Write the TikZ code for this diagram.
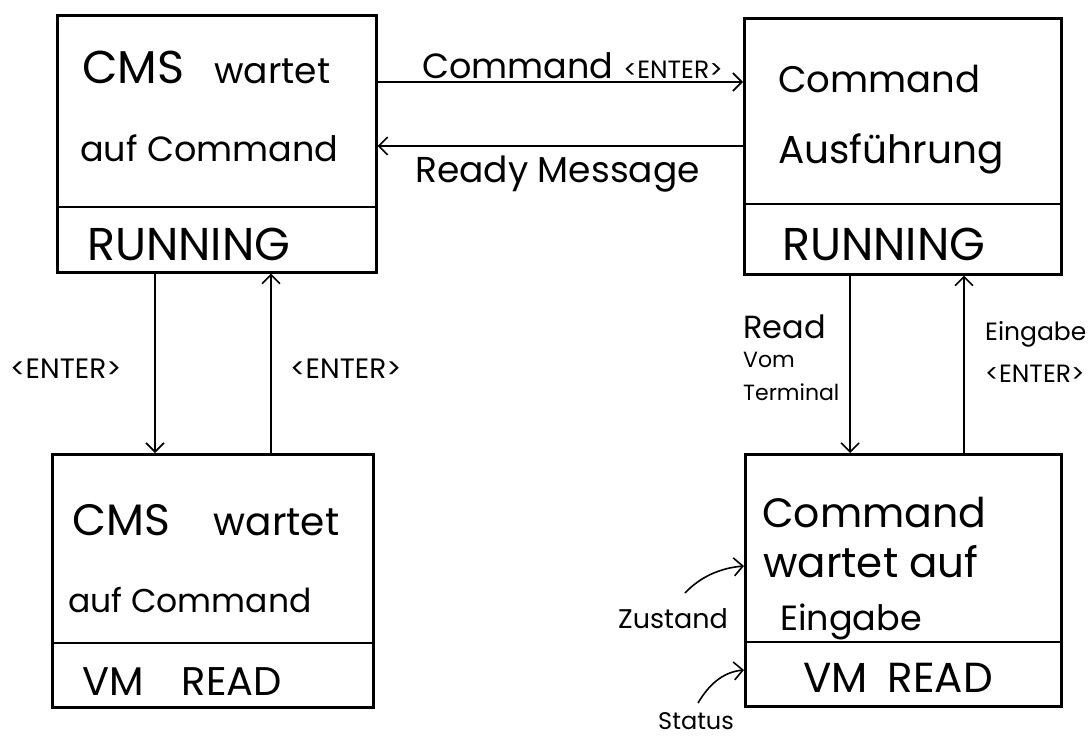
\documentclass[tikz,border=0pt]{standalone}
\usepackage{fontspec}
\setmainfont{Poppins}
\usetikzlibrary{arrows.meta}
\newcommand\fsz[1]{\fontsize{#1}{#1}\selectfont}
\tikzset{
  statebox/.style={draw, line width=2.6pt, inner sep=0pt, anchor=north west},
  divline/.style={line width=2.6pt},
  arr/.style={line width=1.6pt, -{Straight Barb[length=9pt,width=18pt,line width=1.6pt]}},
  txt/.style={anchor=base west, inner sep=0pt},
}
\begin{document}
\begin{tikzpicture}[x=1pt,y=-1pt]
\useasboundingbox (0,0) rectangle (1092,736);
\fill[white] (0,0) rectangle (1092,736);
% boxes
\node[statebox, minimum width=319pt, minimum height=257pt] (tl) at (56,14) {};
\node[statebox, minimum width=317pt, minimum height=256pt] (tr) at (743,17) {};
\node[statebox, minimum width=321pt, minimum height=253pt] (bl) at (51,453) {};
\node[statebox, minimum width=316pt, minimum height=252pt] (br) at (744,453) {};
\draw[divline] (56,207) -- (375,207);
\draw[divline] (743,204) -- (1060,204);
\draw[divline] (51,643) -- (372,643);
\draw[divline] (744,642) -- (1060,642);
% box texts
\node[txt] (tla) at (82,83) {\fsz{46}CMS\hspace{30pt}\fsz{36}wartet};
\node[txt] (tlb) at (80,161) {\fsz{35}auf Command};
\node[txt] (tlc) at (87,260) {\fsz{46}RUNNING};
\node[txt] (tra) at (778,92) {\fsz{37}Command};
\node[txt] (trb) at (778,163) {\fsz{39}Ausführung};
\node[txt] (trc) at (782,260) {\fsz{46}RUNNING};
\node[txt] (bla) at (72,535) {\fsz{44}CMS\hspace{44pt}\fsz{39}wartet};
\node[txt] (blb) at (68,612) {\fsz{33}auf Command};
\node[txt] (blc) at (82,695) {\fsz{40}VM\hspace{38pt}READ};
\node[txt] (bra) at (762,527) {\fsz{41}Command};
\node[txt] (brb) at (763,577) {\fsz{42}wartet auf};
\node[txt] (brc) at (780,630) {\fsz{35}Eingabe};
\node[txt] (brd) at (803,692) {\fsz{42}VM\hspace{20pt}READ};
% connector helper coordinates
\coordinate (ya) at (0,82);
\coordinate (yb) at (0,146);
\coordinate (x1) at (155,0);
\coordinate (x2) at (271,0);
\coordinate (x3) at (850,0);
\coordinate (x4) at (964,0);
\coordinate (yz) at (0,566);
\coordinate (ys) at (0,670);
% connectors
\draw[arr] (tl.east |- ya) -- (tr.west |- ya);
\draw[arr] (tr.west |- yb) -- (tl.east |- yb);
\draw[arr] (tl.south -| x1) -- (bl.north -| x1);
\draw[arr] (bl.north -| x2) -- (tl.south -| x2);
\draw[arr] (tr.south -| x3) -- (br.north -| x3);
\draw[arr] (br.north -| x4) -- (tr.south -| x4);
% connector labels
\node[txt] (l1) at (422,78) {\fsz{35}Command\hspace{10pt}\fsz{25}<ENTER>};
\node[txt] (l2) at (415,182) {\fsz{36}Ready Message};
\node[txt] (l3) at (10,378) {\fsz{28}<ENTER>};
\node[txt] (l4) at (290,378) {\fsz{28}<ENTER>};
\node[txt] (l5) at (743,338) {\fsz{32}Read};
\node[txt] (l6) at (743,367) {\fsz{22}Vom};
\node[txt] (l7) at (743,400) {\fsz{22}Terminal};
\node[txt] (l8) at (985,340) {\fsz{25}Eingabe};
\node[txt] (l9) at (985,382) {\fsz{25}<ENTER>};
% annotations
\node[txt] (zus) at (618,628) {\fsz{27}Zustand};
\node[txt] (sta) at (658,729) {\fsz{24}Status};
\coordinate (zs) at (685,593);
\coordinate (ss) at (698,703);
\draw[arr] (zs) .. controls (700,577) and (720,568) .. (br.west |- yz);
\draw[arr] (ss) .. controls (708,686) and (722,672) .. (br.west |- ys);
\end{tikzpicture}
\end{document}
